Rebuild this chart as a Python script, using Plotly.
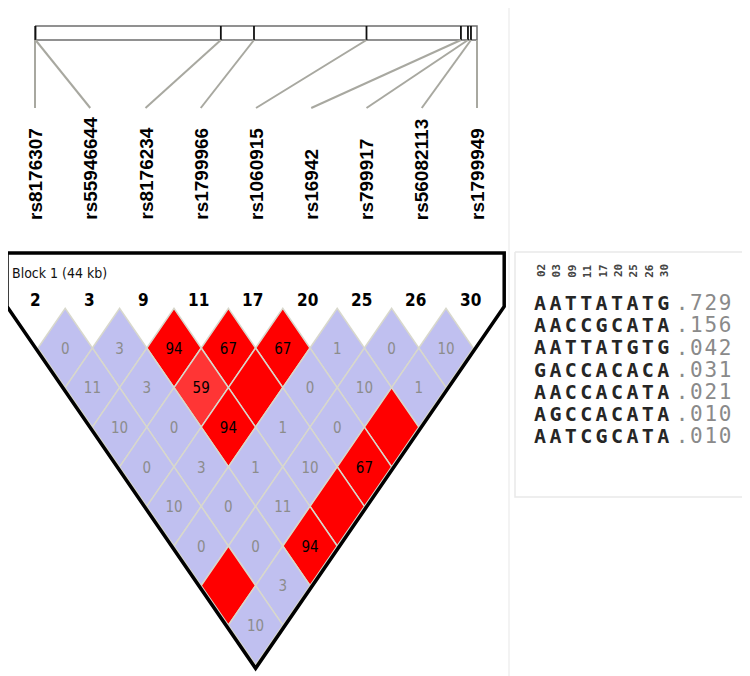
import plotly.graph_objects as go

# ---------------- data ----------------
snps = ["rs8176307", "rs55946644", "rs8176234", "rs1799966", "rs1060915",
        "rs16942", "rs799917", "rs56082113", "rs1799949"]
marker_numbers = ["2", "3", "9", "11", "17", "20", "25", "26", "30"]
positions_kb = [0.0, 0.05, 18.5, 21.8, 33.0, 42.4, 43.1, 43.4, 44.0]
block_label = "Block 1 (44 kb)"

# LD values by distance row (pair i, i+d); None = value not printed (100)
ld_rows = [
    [0, 3, 94, 67, 67, 1, 0, 10],
    [11, 3, 59, None, 0, 10, 1],
    [10, 0, 94, 1, 0, None],
    [0, 3, 1, 10, 67],
    [10, 0, 11, None],
    [0, 0, 94],
    [None, 3],
    [10],
]
# colour class: L = lavender, R = red, P = lighter red
ld_class_rows = [
    "LLRRRLLL",
    "LLPRLLL",
    "LLRLLR",
    "LLLLR",
    "LLLR",
    "LLR",
    "RL",
    "L",
]

haplotypes = ["AATTATATG", "AACCGCATA", "AATTATGTG", "GACCACACA",
              "AACCACATA", "AGCCACATA", "AATCGCATA"]
hap_freqs = [".729", ".156", ".042", ".031", ".021", ".010", ".010"]

# ---------------- layout constants ----------------
W, H = 750, 676
PAGE_OFF = 8  # default page margin of the html body
colors = {"L": "#C0C0F0", "R": "#FF0000", "P": "#FF3535"}
narrow = "Liberation Sans Narrow, DejaVu Sans Condensed, Liberation Sans, Arial, sans-serif"

ld_x0, ld_dx = 38.0, 54.4          # LD grid columns
half_w = ld_dx / 2
half_h = 39.6
row1_cy = 348.0
name_x0, name_dx = 35.0, 55.25     # marker label columns
bar_x0, bar_x1, bar_y0, bar_y1 = 35.0, 477.0, 26.0, 40.0
fan_y1 = 108.0

n = len(snps)
ld_x = [ld_x0 + ld_dx * i for i in range(n)]
name_x = [name_x0 + name_dx * i for i in range(n)]
span = positions_kb[-1] - positions_kb[0]
phys_x = [bar_x0 + (p - positions_kb[0]) / span * (bar_x1 - bar_x0) for p in positions_kb]

fig = go.Figure()

# faint page guide lines
for gx in (4, 509):
    fig.add_trace(go.Scatter(x=[gx, gx], y=[0, H], mode="lines",
                             line=dict(color="#EFEFEF", width=1.5), hoverinfo="skip"))

# ---------------- top physical map ----------------
fig.add_trace(go.Scatter(x=[bar_x0, bar_x1, bar_x1, bar_x0, bar_x0],
                         y=[bar_y0, bar_y0, bar_y1, bar_y1, bar_y0], mode="lines",
                         line=dict(color="#6E6E6E", width=1.5), hoverinfo="skip"))
for px in phys_x[1:-1]:
    fig.add_trace(go.Scatter(x=[px, px], y=[bar_y0, bar_y1], mode="lines",
                             line=dict(color="#111111", width=1.8), hoverinfo="skip"))
for px, nx in zip(phys_x, name_x):
    fig.add_trace(go.Scatter(x=[px, nx], y=[bar_y1, fan_y1], mode="lines",
                             line=dict(color="#A8A8A0", width=2), hoverinfo="skip"))

# marker names
annotations = []
for nx, name in zip(name_x, snps):
    annotations.append(dict(x=nx, y=222, xref="x", yref="y", text="<b>" + name + "</b>",
                            textangle=-90, showarrow=False, xanchor="center", yanchor="bottom",
                            font=dict(family="Liberation Sans, Arial", size=19,
                                      color="#000000")))

# ---------------- LD diamonds ----------------
txt_gray = dict(x=[], y=[], t=[])
txt_black = dict(x=[], y=[], t=[])
for d, (vals, cls) in enumerate(zip(ld_rows, ld_class_rows), start=1):
    for i, (v, c) in enumerate(zip(vals, cls)):
        cx = (ld_x[i] + ld_x[i + d]) / 2
        cy = row1_cy + (d - 1) * half_h
        fig.add_trace(go.Scatter(
            x=[cx - half_w, cx, cx + half_w, cx, cx - half_w],
            y=[cy, cy - half_h, cy, cy + half_h, cy],
            mode="lines", fill="toself", fillcolor=colors[c],
            line=dict(color="#D8D8CC", width=1.5), hoverinfo="skip"))
        if v is not None:
            tgt = txt_gray if c == "L" else txt_black
            tgt["x"].append(cx)
            tgt["y"].append(cy + 2)
            tgt["t"].append(str(v))

fig.add_trace(go.Scatter(x=txt_gray["x"], y=txt_gray["y"], text=txt_gray["t"],
                         mode="text", textfont=dict(family=narrow, size=15, color="#8C8C8C"),
                         hoverinfo="skip"))
fig.add_trace(go.Scatter(x=txt_black["x"], y=txt_black["y"], text=txt_black["t"],
                         mode="text", textfont=dict(family=narrow, size=15, color="#000000"),
                         hoverinfo="skip"))

# ---------------- block outline ----------------
top_y = 253.0
left_x = 7.0
mid_x = (ld_x[0] + ld_x[-1]) / 2
slope = half_h / half_w
norm = (half_w ** 2 + half_h ** 2) ** 0.5
off = 2.0
px0 = ld_x[0] - off * half_h / norm
py0 = row1_cy + off * half_w / norm
corner_y = py0 - (px0 - left_x) * slope
bottom_y = py0 + (mid_x - px0) * slope
right_x = 2 * mid_x - left_x
fig.add_trace(go.Scatter(
    x=[left_x, right_x, right_x, mid_x, left_x, left_x],
    y=[top_y, top_y, corner_y, bottom_y, corner_y, top_y],
    mode="lines", line=dict(color="#000000", width=3.5), hoverinfo="skip"))

annotations.append(dict(x=10, y=273, xref="x", yref="y", text=block_label, showarrow=False,
                        xanchor="left", yanchor="middle",
                        font=dict(family=narrow, size=14, color="#111111")))
for lx, num in zip(ld_x, marker_numbers):
    annotations.append(dict(x=lx - 3, y=300, xref="x", yref="y", text="<b>" + num + "</b>",
                            showarrow=False, xanchor="center", yanchor="middle",
                            font=dict(family=narrow, size=17, color="#000000")))

# ---------------- haplotype panel ----------------
fig.add_trace(go.Scatter(x=[515, 748, 748, 515, 515], y=[252, 252, 497, 497, 252],
                         mode="lines", line=dict(color="#E9E9E9", width=1.5), hoverinfo="skip"))
col_x0, col_dx = 540.0, 15.4
row_y0, row_dy = 305.0, 22.2
for k, num in enumerate(marker_numbers):
    annotations.append(dict(x=col_x0 + col_dx * k + 1, y=271, xref="x", yref="y",
                            text="<b>" + num.zfill(2) + "</b>", textangle=-90, showarrow=False,
                            xanchor="center", yanchor="middle",
                            font=dict(family="DejaVu Sans Mono", size=11, color="#444444")))
hx, hy, ht = [], [], []
fx, fy, ft = [], [], []
for r, (hap, fr) in enumerate(zip(haplotypes, hap_freqs)):
    y = row_y0 + row_dy * r
    for k, ch in enumerate(hap):
        hx.append(col_x0 + col_dx * k)
        hy.append(y)
        ht.append(ch)
    for k, ch in enumerate(fr):
        fx.append(682 + 14.4 * k)
        fy.append(y)
        ft.append(ch)
fig.add_trace(go.Scatter(x=hx, y=hy, text=["<b>" + t + "</b>" for t in ht], mode="text",
                         textfont=dict(family="DejaVu Sans Mono", size=20, color="#262626"),
                         hoverinfo="skip"))
fig.add_trace(go.Scatter(x=fx, y=fy, text=ft, mode="text",
                         textfont=dict(family="DejaVu Sans Mono", size=21, color="#8A8A8A"),
                         hoverinfo="skip"))

fig.update_layout(
    width=W, height=H, margin=dict(l=0, r=0, t=0, b=0),
    paper_bgcolor="white", plot_bgcolor="white", showlegend=False,
    xaxis=dict(range=[PAGE_OFF, W + PAGE_OFF], visible=False, fixedrange=True),
    yaxis=dict(range=[H + PAGE_OFF, PAGE_OFF], visible=False, fixedrange=True),
    annotations=annotations,
)
fig.write_html("out.html")
